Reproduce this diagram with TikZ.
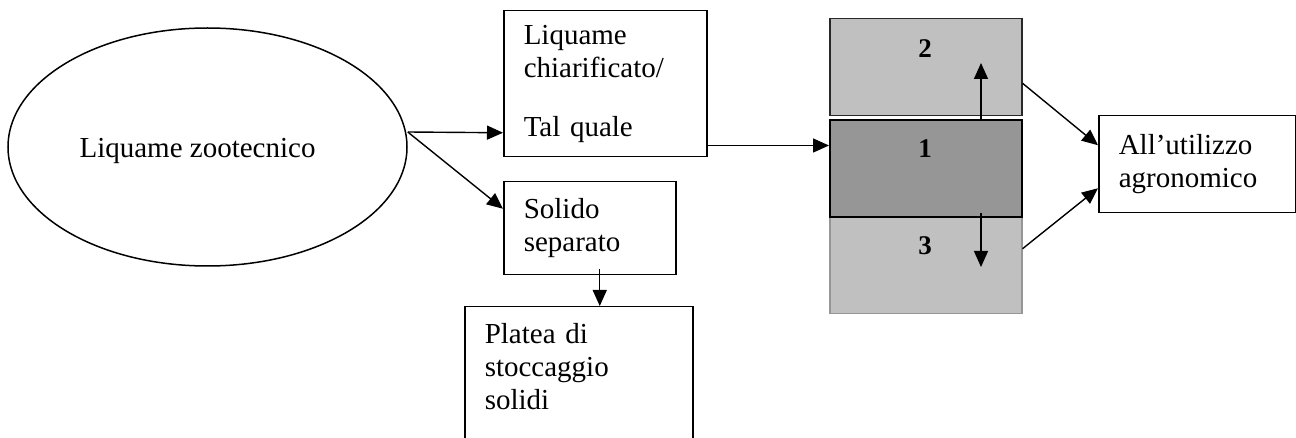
\documentclass[tikz,border=0pt]{standalone}
\usepackage{fontspec}
\setmainfont{Liberation Serif}
\usetikzlibrary{arrows.meta, positioning, shapes.geometric}

\begin{document}
\begin{tikzpicture}[x=1pt, y=-1pt,
  box/.style={draw, line width=1.5pt, anchor=north west, align=left,
    inner xsep=20pt, font=\fontsize{29pt}{33pt}\selectfont},
  layer/.style={draw, line width=1.5pt, minimum width=192pt,
    minimum height=97pt, inner sep=0pt},
  num/.style={font=\fontsize{27pt}{30pt}\selectfont\bfseries,
    anchor=base, inner sep=0pt},
  arr/.style={-{Triangle[length=16pt, width=14pt]}, line width=1.4pt}]
\path[use as bounding box] (0,0) rectangle (1296,438);
\clip (0,0) rectangle (1296,438);

\node at (207.5,147) (zoo) [draw, ellipse, line width=1.5pt, minimum width=399pt,
  minimum height=238pt, inner sep=0pt, text height=28pt, text depth=6pt,
  font=\fontsize{29pt}{33pt}\selectfont]
{Liquame zootecnico\rule{20pt}{0pt}};

\node at (503,10) (liq) [box, text width=163pt, minimum height=146pt]
{Liquame\\chiarificato/\\[26pt]Tal quale};

\node at (503,181) (sol) [box, text width=132pt, minimum height=93pt]
{Solido\\separato};

\node at (464,306) (pla) [box, text width=188pt, inner ysep=17pt, text depth=160pt]
{Platea di\\stoccaggio\\solidi};

% vasca a tre strati
\node at (829,18) (l2) [layer, anchor=north west, fill={rgb,255:red,192;green,192;blue,192}, draw={rgb,255:red,40;green,40;blue,40}] {};
\node at (829,215) (l3) [layer, anchor=north west, minimum height=98pt, fill={rgb,255:red,192;green,192;blue,192}, draw={rgb,255:red,150;green,150;blue,150}] {};
\node (l1) [layer, below=3pt of l2, fill={rgb,255:red,150;green,150;blue,150}, draw=black] {};

\node at (925,58) (n2) [num] {2};
\node at (925,158) (n1) [num] {1};
\node at (925,255) (n3) [num] {3};

\node at (1098,115) (agro) [box, text width=157pt, minimum height=97pt]
{All’utilizzo\\agronomico};

\coordinate (upt) at (981,63);
\coordinate (dnt) at (981,267);

\draw[arr] ([yshift=15pt]zoo.east) -- ([yshift=-49pt]liq.west);
\draw[arr] ([yshift=15pt]zoo.east) -- ([yshift=19.5pt]sol.west);
\draw[arr] ([xshift=10pt, yshift=6pt]sol.south) -- ([xshift=10pt]sol.south |- pla.north);
\draw[arr] ([yshift=12pt]liq.south east) -- ([yshift=12pt]liq.south east -| l1.west);
\draw[arr] ([yshift=-1pt]upt |- l1.north) -- (upt);
\draw[arr] ([yshift=5pt]dnt |- l1.south) -- (dnt);
\draw[arr] ([yshift=-16pt]l2.east) -- ([yshift=19pt]agro.west);
\draw[arr] ([yshift=16pt]l3.east) -- ([yshift=-24pt]agro.west);
\end{tikzpicture}
\end{document}
